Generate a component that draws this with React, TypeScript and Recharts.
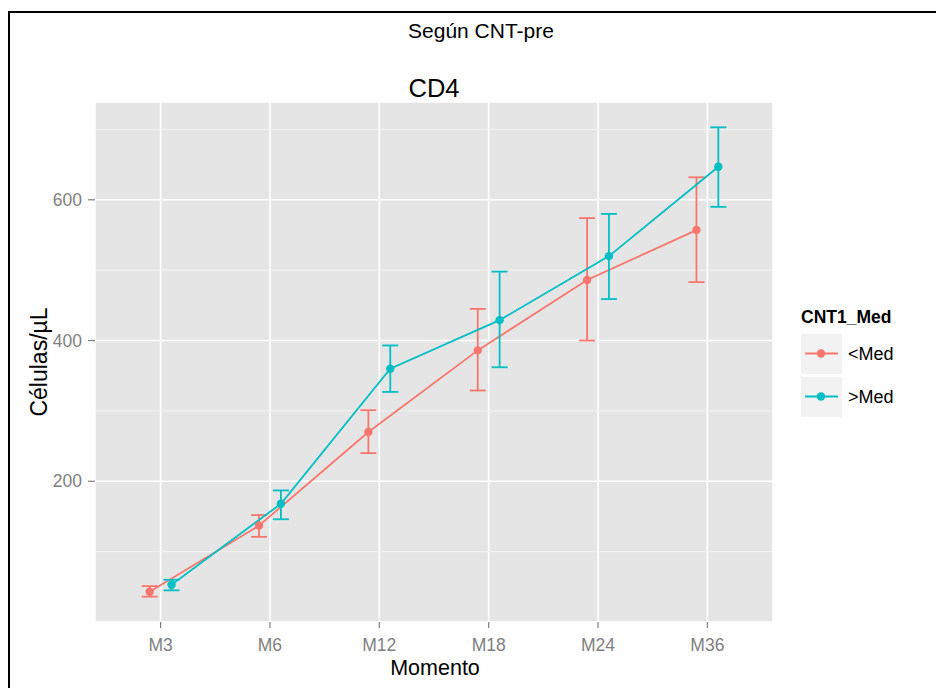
import {
  CartesianGrid,
  ComposedChart,
  ErrorBar,
  Legend,
  Line,
  ReferenceLine,
  XAxis,
  YAxis,
} from "recharts";

const moments = ["M3", "M6", "M12", "M18", "M24", "M36"];
const yTicks = [200, 400, 600];
const yMinor = [100, 300, 500, 700];

// <Med
const lowMean = [43, 137, 270, 386, 486, 557];
const lowLower = [36, 121, 240, 329, 400, 483];
const lowUpper = [51, 152, 301, 445, 574, 632];

// >Med
const highMean = [53, 168, 360, 429, 520, 647];
const highLower = [45, 146, 327, 362, 459, 590];
const highUpper = [60, 187, 393, 498, 580, 703];

const RED = "#F8766D";
const TEAL = "#00BFC4";
const FONT = "Liberation Sans, Arial, sans-serif";

const dodge = 0.1;

const lowData = moments.map((m, i) => ({
  x: i + 1 - dodge,
  name: m,
  value: lowMean[i],
  err: [lowMean[i] - lowLower[i], lowUpper[i] - lowMean[i]],
}));

const highData = moments.map((m, i) => ({
  x: i + 1 + dodge,
  name: m,
  value: highMean[i],
  err: [highMean[i] - highLower[i], highUpper[i] - highMean[i]],
}));

const LegendBox = ({ payload }: any) => (
  <svg width={130} height={120} style={{ fontFamily: FONT }}>
    <text x={1} y={23} fontSize={17.5} fontWeight="bold" fill="#000">
      CNT1_Med
    </text>
    {(payload || []).map((p: any, i: number) => {
      const top = 34 + i * 43;
      return (
        <g key={p.value}>
          <rect x={1} y={top} width={41} height={40} fill="#F2F2F2" />
          <line x1={5} x2={38} y1={top + 19.5} y2={top + 19.5} stroke={p.color} strokeWidth={1.8} />
          <circle cx={21} cy={top + 19.5} r={4.2} fill={p.color} />
          <text x={48} y={top + 26} fontSize={18} fill="#000">
            {p.value}
          </text>
        </g>
      );
    })}
  </svg>
);

const App = () => {
  return (
    <div
      style={{
        position: "absolute",
        left: 0,
        top: 0,
        width: 936,
        height: 688,
        overflow: "hidden",
        background: "#fff",
        fontFamily: FONT,
      }}
    >
      <div
        style={{
          position: "absolute",
          left: 8,
          top: 11,
          width: 1000,
          height: 1000,
          border: "2px solid #000",
        }}
      />
      <div style={{ position: "absolute", left: 0, top: 0 }}>
        <ComposedChart
          width={936}
          height={688}
          margin={{ top: 102, right: 163, bottom: 0, left: 35 }}
        >
          <CartesianGrid fill="#E5E5E5" stroke="#FFFFFF" strokeWidth={1.6} />
          {yMinor.map((v) => (
            <ReferenceLine key={v} y={v} stroke="#F2F2F2" strokeWidth={1} />
          ))}
          <XAxis
            dataKey="x"
            type="number"
            domain={[0.4, 6.6]}
            ticks={[1, 2, 3, 4, 5, 6]}
            tickFormatter={(v: number) => moments[Math.round(v) - 1]}
            allowDataOverflow
            axisLine={false}
            tickLine={{ stroke: "#7F7F7F", strokeWidth: 1.2 }}
            tickSize={6}
            tickMargin={11}
            height={66}
            tick={{ fill: "#7F7F7F", fontSize: 17.5, fontFamily: FONT }}
          />
          <YAxis
            type="number"
            domain={[0, 739]}
            ticks={yTicks}
            allowDataOverflow
            axisLine={false}
            tickLine={{ stroke: "#7F7F7F", strokeWidth: 1.2 }}
            tickSize={7}
            tickMargin={6}
            width={60}
            tick={{ fill: "#7F7F7F", fontSize: 17.5, fontFamily: FONT }}
          />
          <Line
            data={lowData}
            dataKey="value"
            name="<Med"
            stroke={RED}
            strokeWidth={1.8}
            dot={{ r: 4.2, fill: RED, stroke: RED, strokeWidth: 0 }}
            isAnimationActive={false}
          >
            <ErrorBar dataKey="err" direction="y" width={8} stroke={RED} strokeWidth={1.8} />
          </Line>
          <Line
            data={highData}
            dataKey="value"
            name=">Med"
            stroke={TEAL}
            strokeWidth={1.8}
            dot={{ r: 4.2, fill: TEAL, stroke: TEAL, strokeWidth: 0 }}
            isAnimationActive={false}
          >
            <ErrorBar dataKey="err" direction="y" width={8} stroke={TEAL} strokeWidth={1.8} />
          </Line>
          <Legend
            layout="horizontal"
            align="center"
            verticalAlign="middle"
            wrapperStyle={{ left: 800, top: 300, width: 130 }}
            content={<LegendBox />}
          />
        </ComposedChart>
      </div>
      <svg
        width={936}
        height={688}
        style={{ position: "absolute", left: 0, top: 0, pointerEvents: "none", fontFamily: FONT }}
      >
        <text x={481} y={38} textAnchor="middle" fontSize={21} fill="#000">
          Según CNT-pre
        </text>
        <text x={434} y={97} textAnchor="middle" fontSize={25.5} fill="#000">
          CD4
        </text>
        <text x={435} y={675} textAnchor="middle" fontSize={21.5} fill="#000">
          Momento
        </text>
        <text
          transform="translate(47,362) rotate(-90)"
          textAnchor="middle"
          fontSize={23}
          fill="#000"
        >
          Células/µL
        </text>
      </svg>
    </div>
  );
};

export default App;
